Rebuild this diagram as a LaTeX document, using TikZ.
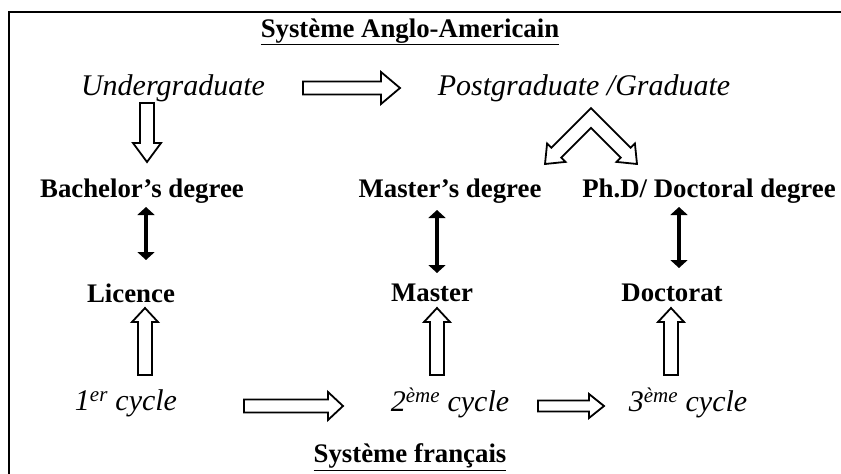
\documentclass[tikz,border=0pt]{standalone}
\usepackage{fontspec}
\setmainfont{Liberation Serif}
\usetikzlibrary{calc,arrows.meta}
\newcommand{\blockarrow}[5]{%
  \coordinate (ba-h) at ($(#2)!#5!(#1)$);
  \draw[hollow] ($(#1)!#3!90:(#2)$) -- ($(ba-h)!#3!90:(#2)$) -- ($(ba-h)!#4!90:(#2)$)
    -- (#2) -- ($(ba-h)!#4!-90:(#2)$) -- ($(ba-h)!#3!-90:(#2)$) -- ($(#1)!#3!-90:(#2)$) -- cycle;
}
\begin{document}
\begin{tikzpicture}[x=1pt,y=-1pt,
  bt/.style={font=\bfseries\fontsize{26.8}{30}\selectfont, inner sep=0pt},
  itx/.style={font=\itshape\fontsize{30}{34}\selectfont, inner sep=0pt},
  hollow/.style={draw=black, line width=1.8pt, fill=white, line join=miter},
  dbl/.style={line width=4.5pt, {Triangle[length=8pt,width=17pt]}-{Triangle[length=8pt,width=17pt]}}]
\useasboundingbox (0,0) rectangle (841,474);
\fill[white] (0,0) rectangle (841,474);
\draw[line width=2.5pt] (9,474) -- (9,12) -- (841,12);
% texts
\node[bt] (title) at (410,32) {\underline{Système Anglo-Americain}};
\node[itx] (ug) at (173,88) {Undergraduate};
\node[itx] (pg) at (584,88) {Postgraduate /Graduate};
\node[bt] (bach) at (142,191) {Bachelor’s degree};
\node[bt] (mast) at (450,191) {Master’s degree};
\node[bt] (phd) at (709,191) {Ph.D/ Doctoral degree};
\node[bt] (lic) at (131,293) {Licence};
\node[bt] (mas) at (432,293) {Master};
\node[bt] (doc) at (672,293) {Doctorat};
\node[itx] (c1) at (126,403) {1\textsuperscript{er} cycle};
\node[itx] (c2) at (450,403) {2\textsuperscript{ème} cycle};
\node[itx] (c3) at (688,403) {3\textsuperscript{ème} cycle};
\node[bt] (fr) at (410,457) {\underline{Système français}};
% hollow arrows
\coordinate (a1s) at (303,88); \coordinate (a1e) at (400,88);
\blockarrow{a1s}{a1e}{6.5pt}{16pt}{19pt}
\coordinate (a2s) at (147,103); \coordinate (a2e) at (147,162);
\blockarrow{a2s}{a2e}{7pt}{14pt}{19pt}
\coordinate (u1s) at (145,375); \coordinate (u1e) at (145,308);
\blockarrow{u1s}{u1e}{7pt}{13pt}{14pt}
\coordinate (u2s) at (437,375); \coordinate (u2e) at (437,308);
\blockarrow{u2s}{u2e}{7pt}{13pt}{14pt}
\coordinate (u3s) at (671,375); \coordinate (u3e) at (671,308);
\blockarrow{u3s}{u3e}{7pt}{13pt}{14pt}
\coordinate (b1s) at (244,406); \coordinate (b1e) at (343,406);
\blockarrow{b1s}{b1e}{6.5pt}{14pt}{15pt}
\coordinate (b2s) at (538,406); \coordinate (b2e) at (604,406);
\blockarrow{b2s}{b2e}{5.5pt}{12pt}{15pt}
% chevron
\draw[hollow] (591,108.1) -- (551.4,147.7) -- (547.1,143.5) -- (545,164) -- (565.5,161.9)
  -- (561.2,157.6) -- (591,127.9) -- (620.8,157.6) -- (616.5,161.9) -- (637,164)
  -- (634.9,143.5) -- (630.6,147.7) -- cycle;
% double arrows
\coordinate (d1s) at (146,207); \coordinate (d1e) at (146,260);
\draw[dbl] (d1s) -- (d1e);
\coordinate (d2s) at (437,210); \coordinate (d2e) at (437,273);
\draw[dbl] (d2s) -- (d2e);
\coordinate (d3s) at (679,207); \coordinate (d3e) at (679,268);
\draw[dbl] (d3s) -- (d3e);
\end{tikzpicture}
\end{document}
